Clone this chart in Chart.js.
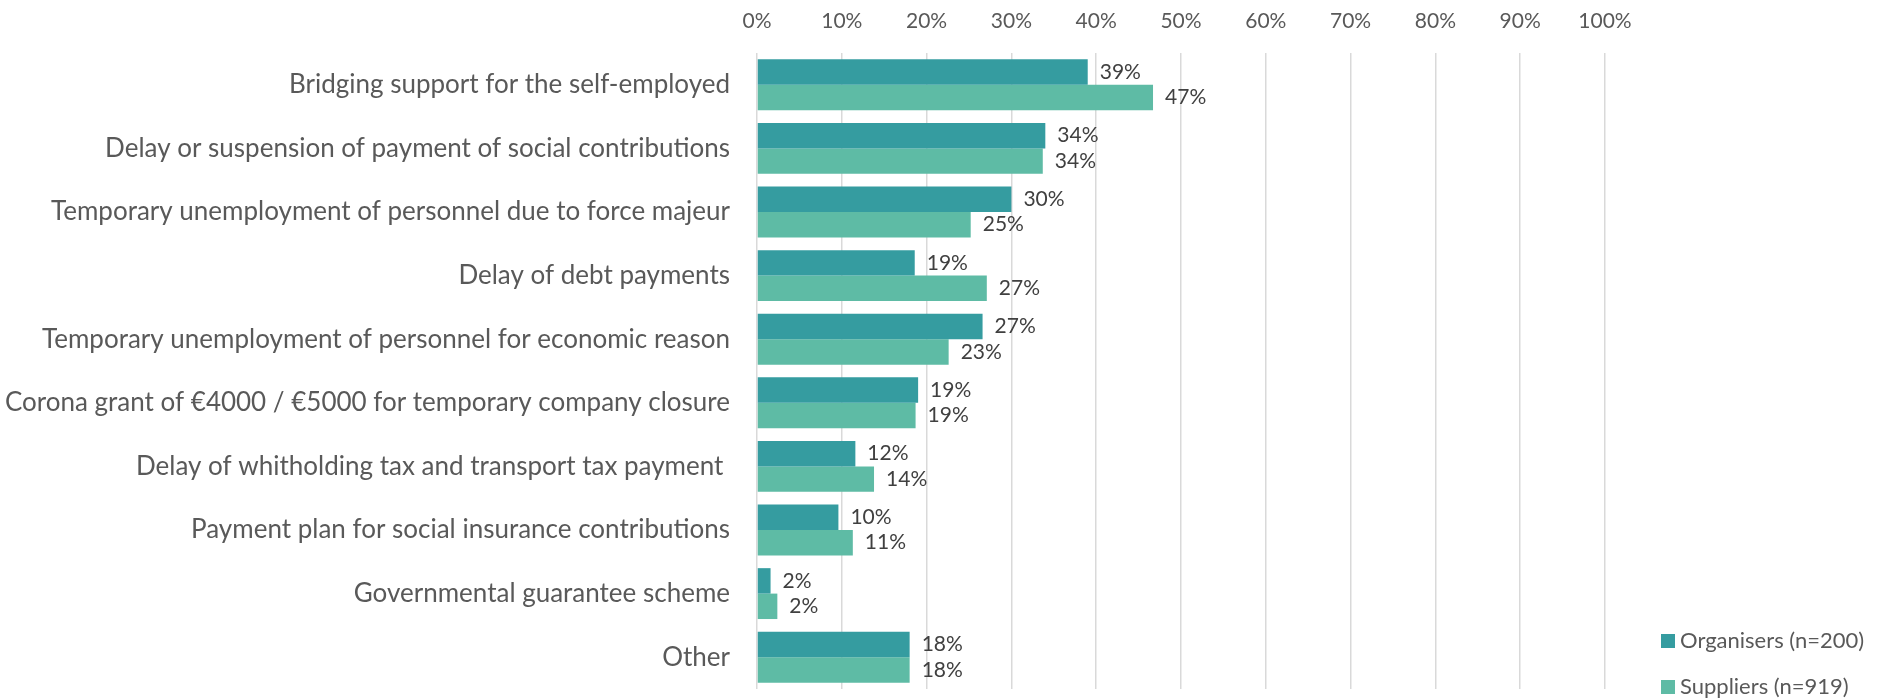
<!DOCTYPE html>
<html>
<head>
<meta charset="utf-8">
<script src="https://cdn.jsdelivr.net/npm/chart.js@4.4.1/dist/chart.umd.min.js"></script>
<style>
  html, body { margin: 0; padding: 0; background: #ffffff; }
  #wrap { width: 1883px; height: 698px; position: relative; }
</style>
</head>
<body>
<div id="wrap"><canvas id="c" width="1883" height="698"></canvas></div>
<script>
const categories = [
  "Bridging support for the self-employed",
  "Delay or suspension of payment of social contributions",
  "Temporary unemployment of personnel due to force majeur",
  "Delay of debt payments",
  "Temporary unemployment of personnel for economic reason",
  "Corona grant of €4000 / €5000 for temporary company closure",
  "Delay of whitholding tax and transport tax payment ",
  "Payment plan for social insurance contributions",
  "Governmental guarantee scheme",
  "Other"
];
const seriesNames = ["Organisers (n=200)", "Suppliers (n=919)"];
const organisers = [39, 34, 30, 18.6, 26.6, 19, 11.6, 9.6, 1.6, 18];
const suppliers = [46.7, 33.7, 25.2, 27.1, 22.6, 18.7, 13.8, 11.3, 2.4, 18];
const xTicks = [0, 10, 20, 30, 40, 50, 60, 70, 80, 90, 100];

const colors = ["#359CA0", "#5EBBA5"];
const FONT = "Lato, 'Open Sans', sans-serif";

const valueLabels = {
  id: "valueLabels",
  afterDatasetsDraw(chart) {
    const ctx = chart.ctx;
    ctx.save();
    ctx.font = "21px " + FONT;
    ctx.fillStyle = "#404040";
    ctx.textAlign = "left";
    ctx.textBaseline = "middle";
    chart.data.datasets.forEach((ds, di) => {
      const meta = chart.getDatasetMeta(di);
      meta.data.forEach((bar, i) => {
        ctx.fillText(Math.round(ds.data[i]) + "%", bar.x + 12, bar.y);
      });
    });
    ctx.restore();
  }
};

const sideLegend = {
  id: "sideLegend",
  afterDraw(chart) {
    const ctx = chart.ctx;
    const area = chart.chartArea;
    ctx.save();
    ctx.font = "22px " + FONT;
    ctx.textBaseline = "middle";
    ctx.textAlign = "left";
    const n = chart.data.datasets.length;
    chart.data.datasets.forEach((ds, i) => {
      const cy = area.bottom - 2 - (n - 1 - i) * 46;
      const x0 = area.right + 56;
      ctx.fillStyle = ds.backgroundColor;
      ctx.fillRect(x0, cy - 7, 14, 14);
      ctx.fillStyle = "#595959";
      ctx.fillText(ds.label, x0 + 19, cy);
    });
    ctx.restore();
  }
};

new Chart(document.getElementById("c"), {
  type: "bar",
  data: {
    labels: categories,
    datasets: [
      { label: seriesNames[0], data: organisers, backgroundColor: colors[0], borderWidth: 0 },
      { label: seriesNames[1], data: suppliers, backgroundColor: colors[1], borderWidth: 0 }
    ]
  },
  options: {
    indexAxis: "y",
    responsive: false,
    animation: false,
    devicePixelRatio: 1,
    layout: { padding: { top: 9, bottom: 9, left: 0, right: 278 } },
    datasets: { bar: { categoryPercentage: 0.8, barPercentage: 1.0 } },
    scales: {
      x: {
        position: "top",
        min: 0,
        max: 100,
        afterBuildTicks(scale) { scale.ticks = xTicks.map(v => ({ value: v })); },
        afterFit(scale) { scale.height = 44; },
        ticks: {
          padding: 19,
          color: "#595959",
          font: { family: FONT, size: 21 },
          callback: v => v + "%"
        },
        grid: { color: "#d9d9d9", lineWidth: 1.5, drawTicks: false },
        border: { display: false }
      },
      y: {
        afterFit(scale) {
          scale.width = 757;
          scale.paddingTop = 0;
          scale.paddingBottom = 0;
        },
        ticks: {
          padding: 27,
          color: "#595959",
          font: { family: FONT, size: 26 }
        },
        grid: { display: false, drawTicks: false },
        border: { display: false }
      }
    },
    plugins: {
      legend: { display: false },
      tooltip: { enabled: false }
    }
  },
  plugins: [valueLabels, sideLegend]
});
</script>
</body>
</html>
